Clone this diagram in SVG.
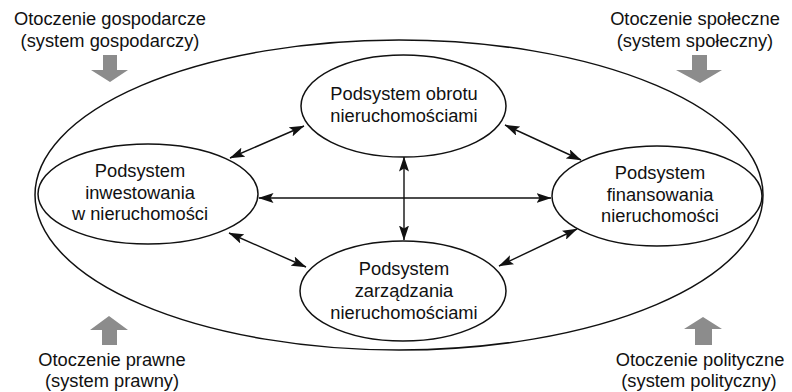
<svg xmlns="http://www.w3.org/2000/svg" width="792" height="392" viewBox="0 0 792 392">
<defs>
<style>
text{font-family:"Liberation Sans",Arial,sans-serif;font-size:18.3px;fill:#111;text-anchor:middle}
.el{fill:#fff;stroke:#111;stroke-width:1.5}
.cn{stroke:#111;stroke-width:1.4;fill:none;marker-start:url(#ah);marker-end:url(#ah)}
.ga{fill:#8c8c8c}
</style>
<marker id="ah" viewBox="0 0 15 10" refX="14.5" refY="5" markerWidth="15" markerHeight="10" markerUnits="userSpaceOnUse" orient="auto-start-reverse">
<path d="M0,0 L15,5 L0,10 L3,5 Z" fill="#111"/>
</marker>
</defs>
<rect width="792" height="392" fill="#fff"/>
<g id="outer"><ellipse cx="399" cy="195" rx="364" ry="155" fill="none" stroke="#111" stroke-width="1.5"/></g>
<g id="env-gosp">
<text x="110" y="25">Otoczenie gospodarcze</text>
<text x="110" y="47">(system gospodarczy)</text>
<path class="ga" d="M103,55 H117 V70 H128 L110,82 L91,70 H103 Z"/>
</g>
<g id="env-spol">
<text x="695" y="25">Otoczenie społeczne</text>
<text x="695" y="47">(system społeczny)</text>
<path class="ga" d="M692,55 H707 V70 H722 L700,83 L676,70 H692 Z"/>
</g>
<g id="env-praw">
<path class="ga" d="M109,316 L128,330 H117 V345 H102 V330 H90 Z"/>
<text x="112" y="366">Otoczenie prawne</text>
<text x="112" y="387">(system prawny)</text>
</g>
<g id="env-polit">
<path class="ga" d="M703,317 L722,329 H712 V345 H695 V329 H684 Z"/>
<text x="700" y="366">Otoczenie polityczne</text>
<text x="699" y="387">(system polityczny)</text>
</g>
<g id="connectors">
<line class="cn" x1="259" y1="198" x2="551" y2="198"/>
<line class="cn" x1="404" y1="157" x2="404" y2="240"/>
<line class="cn" x1="230" y1="158" x2="304" y2="126"/>
<line class="cn" x1="505" y1="125" x2="581" y2="160"/>
<line class="cn" x1="229" y1="233" x2="306" y2="267"/>
<line class="cn" x1="499" y1="266" x2="577" y2="229"/>
</g>
<g id="obrotu">
<ellipse class="el" cx="403.5" cy="106" rx="102.5" ry="51"/>
<text x="404" y="100">Podsystem obrotu</text>
<text x="404" y="122">nieruchomościami</text>
</g>
<g id="inwestowania">
<ellipse class="el" cx="148" cy="194" rx="110" ry="50"/>
<text x="140" y="177">Podsystem</text>
<text x="140" y="199">inwestowania</text>
<text x="140" y="220">w nieruchomości</text>
</g>
<g id="finansowania">
<ellipse class="el" cx="657" cy="196" rx="105" ry="50"/>
<text x="660" y="179">Podsystem</text>
<text x="660" y="201">finansowania</text>
<text x="660" y="222">nieruchomości</text>
</g>
<g id="zarzadzania">
<ellipse class="el" cx="403" cy="291" rx="103" ry="50"/>
<text x="404" y="275">Podsystem</text>
<text x="404" y="297">zarządzania</text>
<text x="404" y="319">nieruchomościami</text>
</g>
</svg>
